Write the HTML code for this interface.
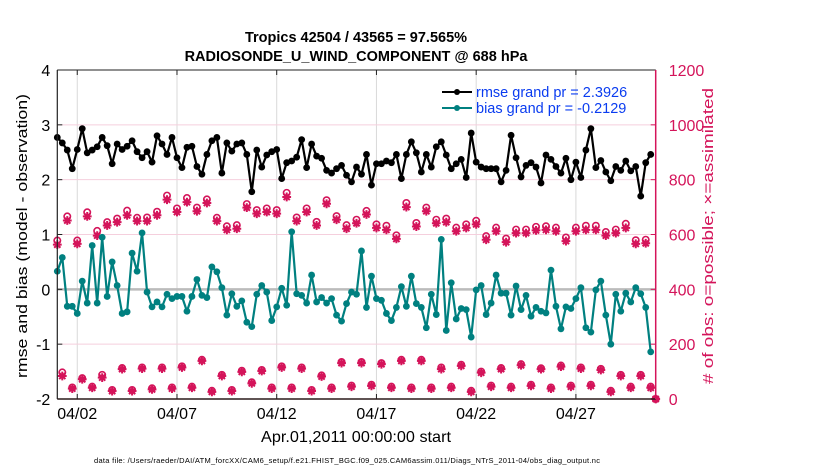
<!DOCTYPE html>
<html><head><meta charset="utf-8"><style>
body{margin:0;background:#fff;}
svg text{font-family:"Liberation Sans",sans-serif;}
</style></head><body>
<svg id="chart" width="830" height="470" viewBox="0 0 830 470" xmlns="http://www.w3.org/2000/svg">
<rect width="830" height="470" fill="#fff"/>
<text x="356" y="42" text-anchor="middle" font-size="14.5" font-weight="bold">Tropics 42504 / 43565 = 97.565%</text>
<text x="356" y="61" text-anchor="middle" font-size="14.5" font-weight="bold">RADIOSONDE_U_WIND_COMPONENT @ 688 hPa</text>
<g id="grid"></g><g id="series"></g><g id="axes"></g>
<text transform="translate(27,236) rotate(-90)" text-anchor="middle" font-size="15" textLength="284" lengthAdjust="spacingAndGlyphs">rmse and bias (model - observation)</text>
<text transform="translate(713,236) rotate(-90)" text-anchor="middle" font-size="15" fill="#d4145a" textLength="296" lengthAdjust="spacingAndGlyphs">#  of obs: o=possible; ×=assimilated</text>
<text x="356" y="442" text-anchor="middle" font-size="16" textLength="190" lengthAdjust="spacingAndGlyphs">Apr.01,2011 00:00:00 start</text>
<text x="347" y="463" text-anchor="middle" font-size="7.5" textLength="506">data file: /Users/raeder/DAI/ATM_forcXX/CAM6_setup/f.e21.FHIST_BGC.f09_025.CAM6assim.011/Diags_NTrS_2011-04/obs_diag_output.nc</text>
<g>
<line x1="442" y1="92" x2="472" y2="92" stroke="#000" stroke-width="2"/><circle cx="457" cy="92" r="3" fill="#000"/>
<text x="476" y="97" font-size="14.5" fill="#0a3cf0">rmse grand pr = 2.3926</text>
<line x1="442" y1="108" x2="472" y2="108" stroke="#008080" stroke-width="2"/><circle cx="457" cy="108" r="3" fill="#008080"/>
<text x="476" y="113" font-size="14.5" fill="#0a3cf0">bias grand pr = -0.2129</text>
</g>
</svg>
<script>
// data (index = 6-hour step from Apr.01 00Z)
const rmse = [2.77,2.67,2.54,2.20,2.55,2.93,2.49,2.54,2.60,2.77,2.62,2.29,2.65,2.55,2.61,2.71,2.51,2.40,2.51,2.32,2.80,2.65,2.46,2.77,2.40,2.22,2.59,2.61,2.24,2.10,
2.46,2.71,2.77,2.12,2.67,2.52,2.65,2.67,2.46,1.78,2.54,2.23,2.45,2.51,2.55,2.02,2.31,2.34,2.41,2.73,2.22,2.65,2.43,2.39,2.17,2.12,2.20,2.26,2.08,1.96,
2.23,2.10,2.46,1.90,2.29,2.29,2.34,2.31,2.46,2.02,2.46,2.69,2.49,2.14,2.46,2.23,2.60,2.69,2.45,2.20,2.29,2.37,2.04,2.85,2.32,2.23,2.20,2.20,2.20,1.96,
2.17,2.81,2.40,2.05,2.26,2.31,2.23,1.94,2.45,2.37,2.24,2.12,2.39,2.00,2.32,2.04,2.54,2.93,2.22,2.35,2.14,1.98,2.24,2.17,2.34,2.16,2.24,1.70,2.31,2.46];
const bias = [0.33,0.58,-0.31,-0.31,-0.44,0.15,-0.25,0.80,-0.25,0.95,-0.13,0.50,0.07,-0.44,-0.41,0.66,0.33,1.03,-0.05,-0.32,-0.23,-0.32,-0.09,-0.17,-0.13,-0.13,-0.40,-0.13,0.18,-0.11,
-0.15,0.41,0.32,0.03,-0.47,-0.08,-0.31,-0.21,-0.60,-0.68,-0.09,0.07,-0.05,-0.57,-0.32,0.02,-0.29,1.05,-0.08,-0.11,-0.25,0.26,-0.23,-0.15,-0.25,-0.17,-0.47,-0.58,-0.26,-0.05,
-0.09,0.70,-0.33,0.24,-0.17,-0.20,-0.44,-0.57,-0.33,0.05,-0.31,0.24,-0.26,-0.33,-0.70,-0.09,-0.46,0.91,-0.75,0.12,-0.54,-0.35,-0.37,-0.87,-0.01,0.07,-0.46,-0.25,0.26,-0.07,
-0.07,-0.47,0.06,-0.37,-0.11,-0.49,-0.33,-0.40,-0.43,0.35,-0.31,-0.72,-0.32,-0.35,-0.17,0.03,-0.70,-0.78,-0.01,0.15,-0.47,-1.00,-0.09,-0.40,-0.07,-0.23,0.03,-0.08,-0.33,-1.14];
// obs counts at 00Z/12Z (even steps 0..120)
const usedMain = [563,651,566,666,596,633,645,670,649,649,670,727,682,718,685,715,649,617,621,698,676,682,676,737,649,682,633,712,654,621,
641,673,624,617,584,700,629,685,641,645,612,624,637,581,612,572,605,605,615,617,612,576,612,617,617,596,605,624,566,568,0];
const possMain = [578,666,578,681,613,645,658,687,661,662,683,742,695,733,698,728,661,630,634,711,689,695,689,752,662,695,646,725,667,634,
654,686,637,632,597,715,642,698,654,658,625,637,650,594,625,585,618,618,628,630,625,589,625,632,632,609,618,639,579,581,0];
// obs counts at 06Z/18Z (odd steps 1..119)
const usedOdd = [84,38,72,41,78,29,109,29,111,35,111,38,115,41,139,26,84,29,99,57,102,38,115,38,111,29,82,38,131,45,
131,48,127,41,139,38,139,38,109,41,121,26,96,45,109,41,123,48,109,38,118,45,111,48,106,26,84,41,84,41];
const possOdd = [97,42,76,45,88,33,113,33,115,39,115,42,119,45,143,30,88,33,103,61,106,42,119,42,115,33,86,42,135,49,
135,52,131,45,143,42,143,42,115,45,125,30,100,49,113,45,127,52,112,42,122,49,115,52,110,30,88,45,88,45];
const leftTicks = [-2,-1,0,1,2,3,4];
const rightTicks = [0,200,400,600,800,1000,1200];
const dateTicks = ["04/02","04/07","04/12","04/17","04/22","04/27"];
const dateSteps = [4,24,44,64,84,104];

const NS="http://www.w3.org/2000/svg";
const X0=57.3, X1=655.7, T1=120, YT=70, YB=399;
function xs(t){return X0+(X1-X0)*t/T1;}
function yl(v){return YB-(v+2)/6*(YB-YT);}
function yr(v){return YB-v/1200*(YB-YT);}
function mk(tag,attrs,parent){const e=document.createElementNS(NS,tag);for(const k in attrs)e.setAttribute(k,attrs[k]);parent.appendChild(e);return e;}
const grid=document.getElementById('grid'),ser=document.getElementById('series'),ax=document.getElementById('axes');
const RED="#d4145a";
dateSteps.forEach((t,i)=>{
  const g=mk('line',{x1:xs(t),x2:xs(t),y1:YT,y2:YB,stroke:"#d9d9d9","stroke-width":1},grid);
  
  
  const tk=mk('line',{x1:xs(t),x2:xs(t),y1:YB,y2:YB-5,stroke:"#222","stroke-width":1},ax);
  
  
  const tt=mk('line',{x1:xs(t),x2:xs(t),y1:YT,y2:YT+5,stroke:"#222","stroke-width":1},ax);
  
  
  const l=mk('text',{x:xs(t),y:419,"text-anchor":"middle","font-size":"15.5",textLength:"40",lengthAdjust:"spacingAndGlyphs"},ax);
  l.textContent=dateTicks[i];
  
  
});
rightTicks.forEach(v=>{
  if(v>0&&v<1200){const g=mk('line',{x1:X0,x2:X1,y1:yr(v),y2:yr(v),stroke:"#f5cfdd","stroke-width":1},grid);
  
  }
  const tk=mk('line',{x1:X1-5,x2:X1,y1:yr(v),y2:yr(v),stroke:RED},ax);
  
  
  const l=mk('text',{x:X1+13,y:yr(v)+6,"font-size":"16",fill:RED},ax);
  l.textContent=v;
  
  
});
leftTicks.forEach(v=>{
  const tk=mk('line',{x1:X0,x2:X0+5,y1:yl(v),y2:yl(v),stroke:"#222"},ax);
  
  
  const l=mk('text',{x:X0-7,y:yl(v)+6,"text-anchor":"end","font-size":"16"},ax);
  l.textContent=v;
  
  
});
const zl=mk('line',{x1:X0,x2:X1,y1:yl(0),y2:yl(0),stroke:"#bbb","stroke-width":2.5},grid);


function obsMarker(t,vu,vp){
  const g=mk('g',{},ser);
  
  
  const x=xs(t);
  mk('circle',{cx:x,cy:yr(vp),r:3.2,fill:"none",stroke:RED,"stroke-width":1.6},g);
  const y=yr(vu);const d=4.4,e=3.1;
  mk('path',{d:`M${x-d} ${y}H${x+d}M${x} ${y-d}V${y+d}M${x-e} ${y-e}L${x+e} ${y+e}M${x-e} ${y+e}L${x+e} ${y-e}`,stroke:RED,"stroke-width":2},g);
  mk('circle',{cx:x,cy:y,r:2.6,fill:RED},g);
}
usedMain.forEach((v,i)=>obsMarker(i*2,v,possMain[i]));
usedOdd.forEach((v,i)=>obsMarker(i*2+1,v,possOdd[i]));
function line(arr,color,name){
  const p=mk('polyline',{points:arr.map((v,i)=>xs(i)+","+yl(v)).join(" "),fill:"none",stroke:color,"stroke-width":2.2,"stroke-linejoin":"round"},ser);
  
  
  arr.forEach((v,i)=>{const c=mk('circle',{cx:xs(i),cy:yl(v),r:3.4,fill:color},ser);
    
    });
}
line(rmse,"#000","rmse");
line(bias,"#008080","bias");
mk('line',{x1:X0,x2:X0,y1:YT,y2:YB,stroke:"#222","stroke-width":1.2},ax);
mk('line',{x1:X0,x2:X1,y1:YB,y2:YB,stroke:"#2a1a1a","stroke-width":1.5},ax);
mk('line',{x1:X0,x2:X1,y1:YT,y2:YT,stroke:"#222","stroke-width":1},ax);
mk('line',{x1:X1,x2:X1,y1:YT,y2:YB,stroke:RED,"stroke-width":1.5},ax);
</script>
</body></html>
